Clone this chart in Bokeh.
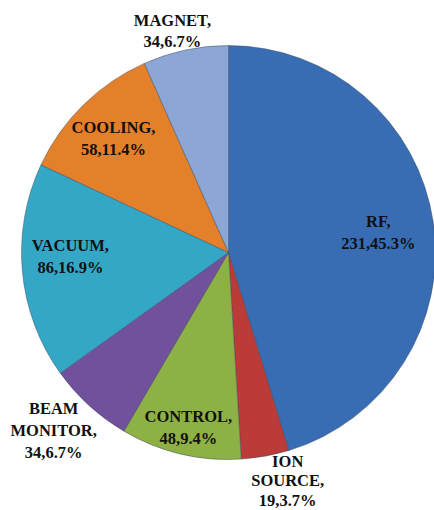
import numpy as np
from bokeh.plotting import figure
from bokeh.models import Range1d, ColumnDataSource
from bokeh.core.properties import value
from bokeh.embed import file_html
from bokeh.resources import INLINE

# ---- data ----
categories = ["RF", "ION\nSOURCE", "CONTROL", "BEAM\nMONITOR", "VACUUM", "COOLING", "MAGNET"]
counts = [231, 19, 48, 34, 86, 58, 34]
colors = ["#386DB4", "#BA3B37", "#8DB144", "#71519C", "#35A7C6", "#E47F2A", "#8CA7D5"]
# label placement (style): radius factor and angular offset (deg, clockwise) from slice middle
label_r = [0.73, 1.14, 0.867, 1.206, 0.764, 0.782, 1.104]
label_da = [0.9, -4.3, -0.5, 2.1, 3.8, -0.8, -2.2]
label_lh = [1.15, 1.02, 1.15, 1.15, 1.15, 1.15, 1.15]

W, H = 434, 510
cx, cy, R = 228, 258, 207

vals = np.array(counts, dtype=float)
frac = vals / vals.sum()
cum = np.concatenate([[0.0], np.cumsum(frac)])
start = np.pi / 2 - cum[:-1] * 2 * np.pi
end = np.pi / 2 - cum[1:] * 2 * np.pi
mid = (start + end) / 2 - np.radians(label_da)

labels = [f"{c},\n{n},{f*100:.1f}%" for c, n, f in zip(categories, counts, frac)]
lx = cx + np.array(label_r) * R * np.cos(mid)
ly = cy + np.array(label_r) * R * np.sin(mid)

src = ColumnDataSource(dict(start=start, end=end, color=colors))

p = figure(width=W, height=H, output_backend="svg", toolbar_location=None,
           x_range=Range1d(0, W), y_range=Range1d(0, H), min_border=0)
p.axis.visible = False
p.grid.visible = False
p.outline_line_color = None
p.background_fill_color = "white"

p.wedge(x=cx, y=cy, radius=R, start_angle="start", end_angle="end", direction="clock",
        fill_color="color", line_color="#3A4658", line_width=1, line_alpha=0.45, source=src)

for lh in sorted(set(label_lh)):
    idx = [i for i, v in enumerate(label_lh) if v == lh]
    lsrc = ColumnDataSource(dict(x=lx[idx], y=ly[idx], text=[labels[i] for i in idx]))
    p.text(x="x", y="y", text="text", source=lsrc, text_align="center", text_baseline="middle",
           text_font=value("Liberation Serif"), text_font_style="bold", text_font_size="16.5px",
           text_color="#111111", text_line_height=lh)

open("out.html", "w").write(file_html(p, INLINE))
